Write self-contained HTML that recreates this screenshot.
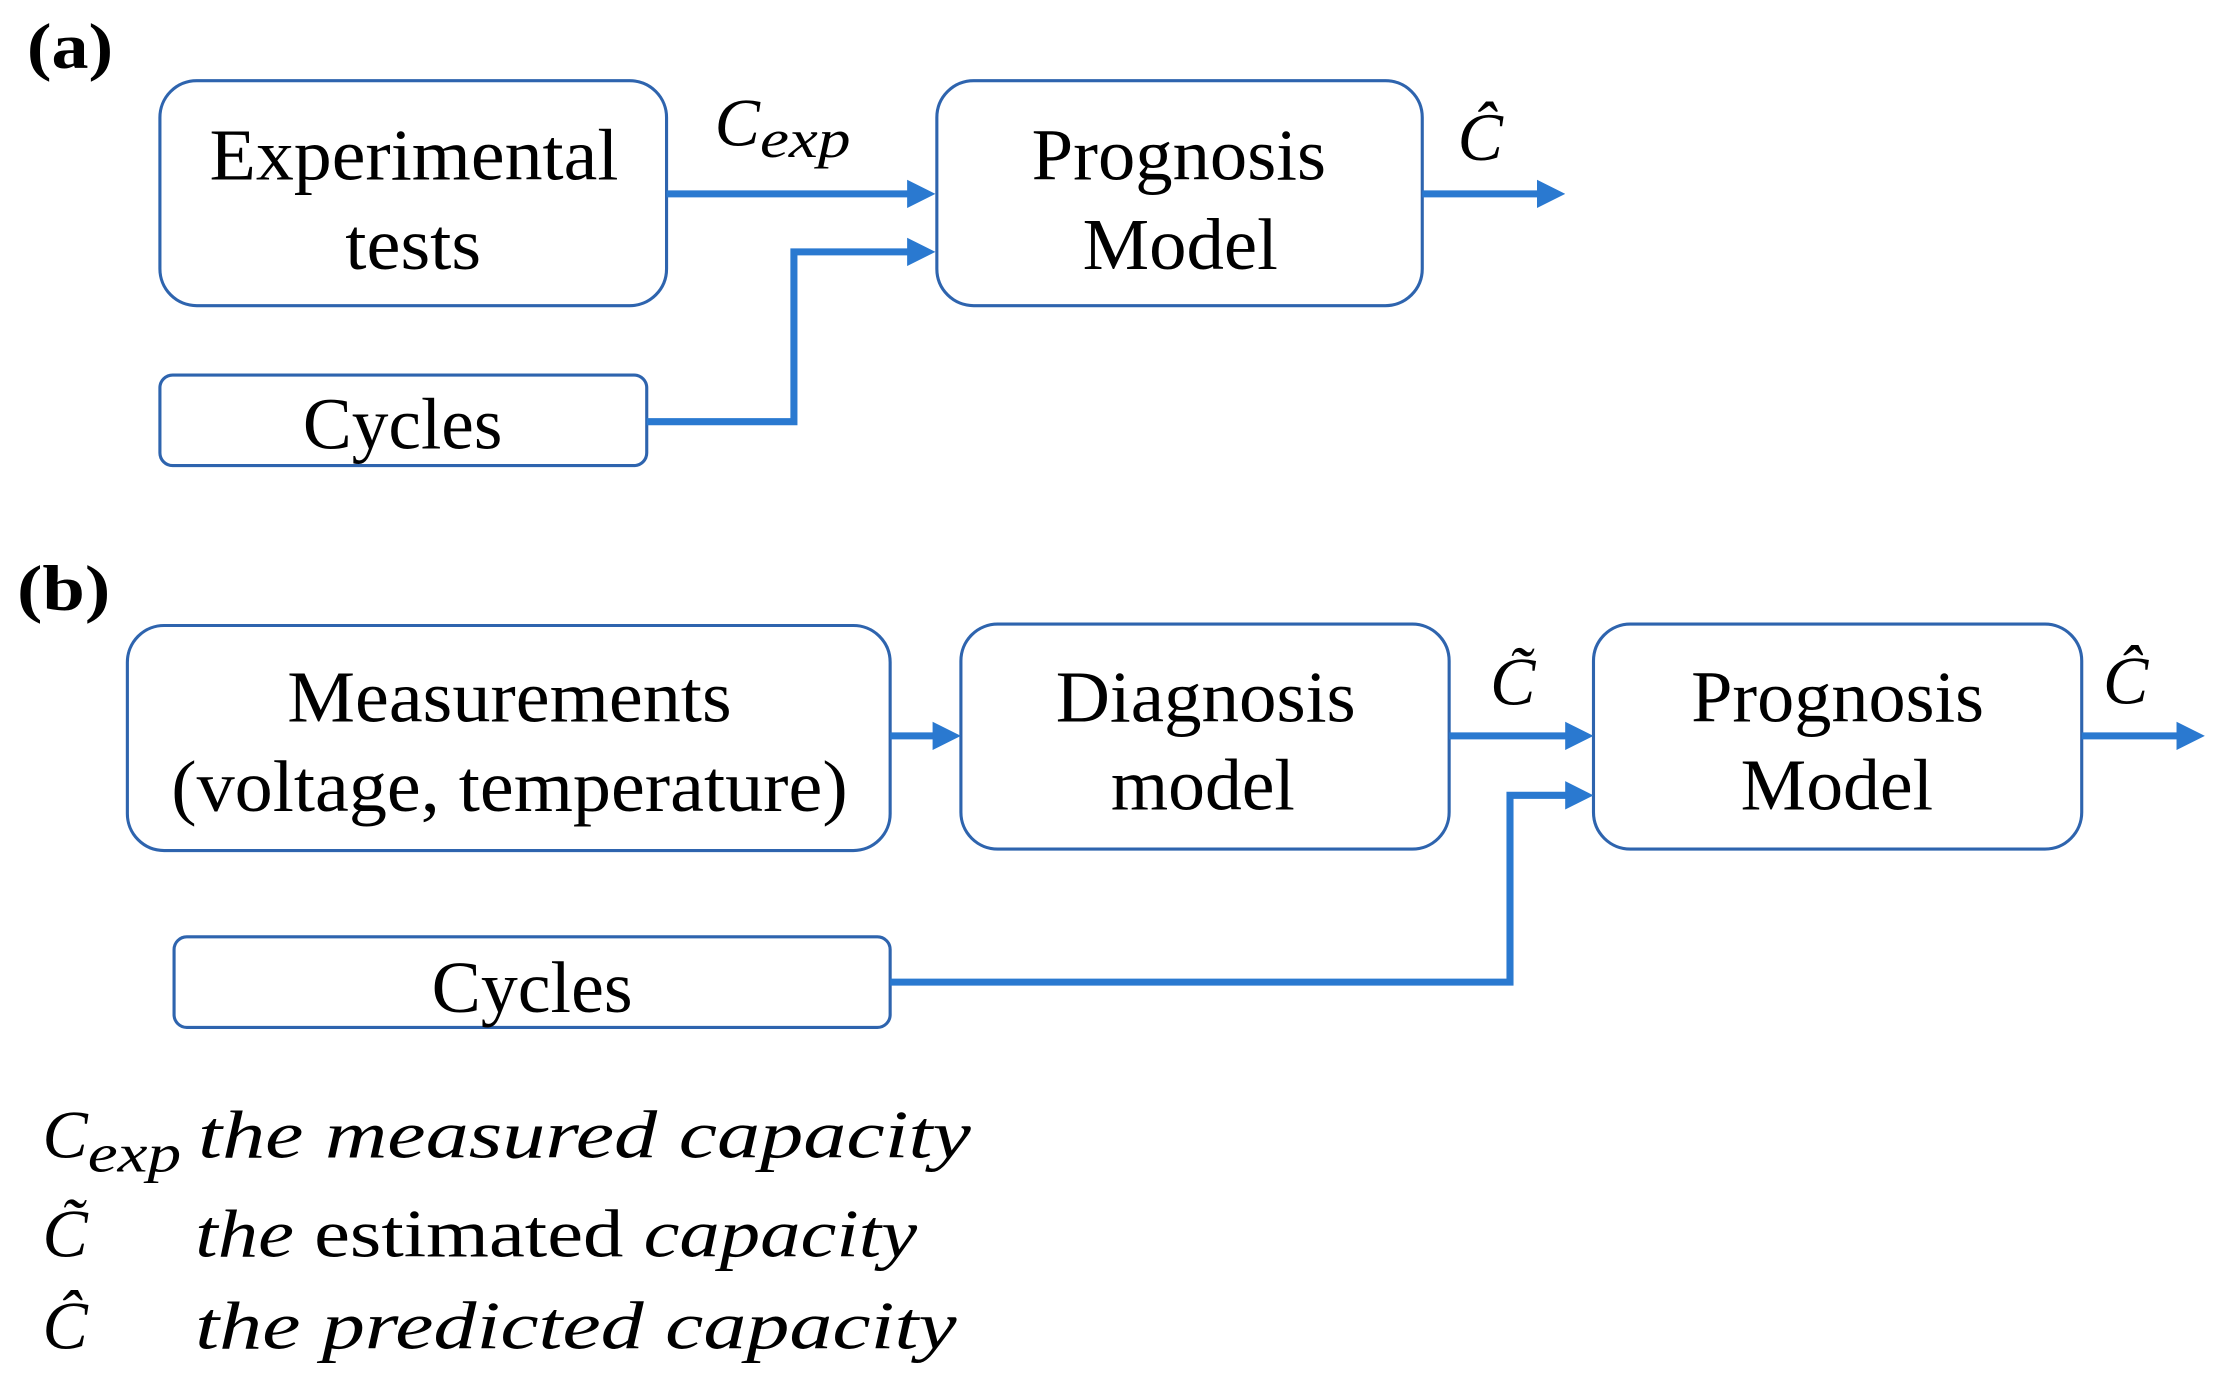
<!DOCTYPE html>
<html><head><meta charset="utf-8"><style>
html,body{margin:0;padding:0;background:#fff;}
svg{display:block;}
text{font-family:"Liberation Serif",serif;fill:#000;}
</style></head><body>
<svg width="2219" height="1386" viewBox="0 0 1568 979.4" preserveAspectRatio="none" xmlns="http://www.w3.org/2000/svg">
<defs>
<marker id="ah" markerWidth="4" markerHeight="4" refX="2.2" refY="2" orient="auto" markerUnits="strokeWidth">
<path d="M0,0 L4,2 L0,4 Z" fill="#2a79d0"/>
</marker>
</defs>
<g fill="none" stroke="#2e64ae" stroke-width="2.2">
<rect x="113" y="57" width="358" height="159" rx="26"/>
<rect x="662" y="57" width="343" height="159" rx="26"/>
<rect x="113" y="265" width="344" height="64" rx="9"/>
<rect x="90" y="442" width="539" height="159" rx="26"/>
<rect x="679" y="441" width="345" height="159" rx="26"/>
<rect x="1126" y="441" width="345" height="159" rx="26"/>
<rect x="123" y="662" width="506" height="64" rx="9"/>
</g>
<g fill="none" stroke="#2a79d0" stroke-width="5">
<line x1="471" y1="137" x2="652" y2="137" marker-end="url(#ah)"/>
<polyline points="457,298 561,298 561,178 652,178" marker-end="url(#ah)"/>
<line x1="1005" y1="137" x2="1097" y2="137" marker-end="url(#ah)"/>
<line x1="629" y1="520" x2="670" y2="520" marker-end="url(#ah)"/>
<line x1="1024" y1="520" x2="1117" y2="520" marker-end="url(#ah)"/>
<polyline points="629,694 1067,694 1067,562 1117,562" marker-end="url(#ah)"/>
<line x1="1471" y1="520" x2="1549" y2="520" marker-end="url(#ah)"/>
</g>
<text x="19" y="48" font-size="46" font-weight="bold" textLength="61" lengthAdjust="spacingAndGlyphs">(a)</text>
<text x="12" y="431" font-size="46" font-weight="bold" textLength="66" lengthAdjust="spacingAndGlyphs">(b)</text>
<g font-size="52" lengthAdjust="spacingAndGlyphs">
<text x="148" y="127" textLength="289" lengthAdjust="spacingAndGlyphs">Experimental</text>
<text x="244" y="190" textLength="96" lengthAdjust="spacingAndGlyphs">tests</text>
<text x="729" y="127" textLength="208" lengthAdjust="spacingAndGlyphs">Prognosis</text>
<text x="765" y="190" textLength="138" lengthAdjust="spacingAndGlyphs">Model</text>
<text x="214" y="317" textLength="141" lengthAdjust="spacingAndGlyphs">Cycles</text>
<text x="203" y="510" textLength="314" lengthAdjust="spacingAndGlyphs">Measurements</text>
<text x="121" y="573" textLength="478" lengthAdjust="spacingAndGlyphs">(voltage, temperature)</text>
<text x="746" y="510" textLength="212" lengthAdjust="spacingAndGlyphs">Diagnosis</text>
<text x="785" y="572" textLength="130" lengthAdjust="spacingAndGlyphs">model</text>
<text x="1195" y="510" textLength="207" lengthAdjust="spacingAndGlyphs">Prognosis</text>
<text x="1230" y="572" textLength="136" lengthAdjust="spacingAndGlyphs">Model</text>
<text x="305" y="715" textLength="142" lengthAdjust="spacingAndGlyphs">Cycles</text>
</g>
<g font-style="italic" font-size="48">
<text x="505" y="103">C<tspan font-size="38" dy="8" textLength="64" lengthAdjust="spacingAndGlyphs">exp</tspan></text>
<text x="1030" y="113">Ĉ</text>
<text x="1053" y="498">C̃</text>
<text x="1486" y="497">Ĉ</text>
<text x="30" y="818">C<tspan font-size="38" dy="10" textLength="66" lengthAdjust="spacingAndGlyphs">exp</tspan></text>
<text x="140" y="818" textLength="546" lengthAdjust="spacingAndGlyphs">the measured capacity</text>
<text x="30" y="888">C̃</text>
<text x="138" y="888" textLength="510" lengthAdjust="spacingAndGlyphs">the <tspan font-style="normal">estimated</tspan> capacity</text>
<text x="30" y="953">Ĉ</text>
<text x="138" y="953" textLength="538" lengthAdjust="spacingAndGlyphs">the predicted capacity</text>
</g>
</svg>
</body></html>
